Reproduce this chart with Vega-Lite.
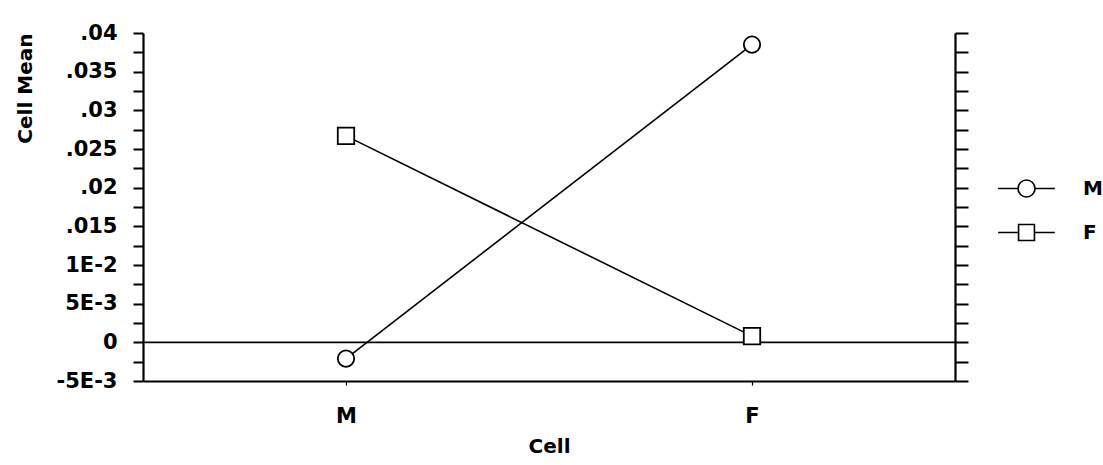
{
  "$schema": "https://vega.github.io/schema/vega-lite/v6.json",
  "width": 812,
  "height": 348,
  "autosize": {"type": "none"},
  "padding": {"left": 143, "top": 33, "right": 148, "bottom": 84},
  "background": "white",
  "config": {
    "view": {"stroke": null},
    "font": "DejaVu Sans",
    "axis": {"domainColor": "black", "tickColor": "black", "labelColor": "black", "titleColor": "black", "grid": false, "labelFontSize": 21, "labelFontWeight": "bold", "titleFontSize": 20, "titleFontWeight": "bold", "labelFont": "DejaVu Sans", "titleFont": "DejaVu Sans"}
  },
  "datasets": {
    "means": [
      {"cell": "M", "series": "M", "mean": -0.0021},
      {"cell": "F", "series": "M", "mean": 0.0385},
      {"cell": "M", "series": "F", "mean": 0.0267},
      {"cell": "F", "series": "F", "mean": 0.0008}
    ],
    "zero": [{"mean": 0}]
  },
  "layer": [
    {
      "data": {"name": "zero"},
      "mark": {"type": "rule", "color": "black", "strokeWidth": 1.6},
      "encoding": {"y": {"field": "mean", "type": "quantitative", "axis": null}}
    },
    {
      "data": {"name": "means"},
      "mark": {"type": "line", "color": "black", "strokeWidth": 1.6},
      "encoding": {
        "x": {
          "field": "cell", "type": "ordinal", "sort": ["M", "F"],
          "scale": {"type": "point", "padding": 0.5},
          "axis": {
            "orient": "bottom", "title": "Cell",
            "labelAngle": 0, "labelPadding": 20, "titlePadding": 10,
            "tickSize": 4, "tickWidth": 1.2, "domainWidth": 2.2
          }
        },
        "y": {
          "field": "mean", "type": "quantitative",
          "scale": {"domain": [-0.005, 0.04], "nice": false, "zero": false},
          "axis": {
            "orient": "left", "title": "Cell Mean",
            "titleAngle": 270, "titleAlign": "right", "titleBaseline": "middle", "titleX": -118, "titleY": 0,
            "values": [-0.005, -0.0025, 0, 0.0025, 0.005, 0.0075, 0.01, 0.0125, 0.015, 0.0175, 0.02, 0.0225, 0.025, 0.0275, 0.03, 0.0325, 0.035, 0.0375, 0.04],
            "labelExpr": "{'-50':'-5E-3','0':'0','50':'5E-3','100':'1E-2','150':'.015','200':'.02','250':'.025','300':'.03','350':'.035','400':'.04'}['' + round(datum.value*10000)] || ''",
            "labelPadding": 16, "tickSize": 10, "tickWidth": 2, "domainWidth": 2.2,
            "labelBound": false, "labelFlush": false, "labelOverlap": false,
            "encode": {"ticks": {"update": {"x2": {"signal": "round(datum.value*10000) % 50 === 0 ? -10 : -5"}}}}
          }
        },
        "detail": {"field": "series"}
      }
    },
    {
      "data": {"name": "means"},
      "mark": {"type": "point", "filled": false, "fill": "white", "stroke": "black", "strokeWidth": 1, "size": 16, "opacity": 1},
      "encoding": {
        "x": {"field": "cell", "type": "ordinal", "sort": ["M", "F"]},
        "y": {
          "field": "mean", "type": "quantitative",
          "axis": {
            "orient": "right", "title": null, "labels": false, "domainWidth": 2.2,
            "values": [-0.005, -0.0025, 0, 0.0025, 0.005, 0.0075, 0.01, 0.0125, 0.015, 0.0175, 0.02, 0.0225, 0.025, 0.0275, 0.03, 0.0325, 0.035, 0.0375, 0.04],
            "tickSize": 13, "tickWidth": 2,
            "encode": {"ticks": {"update": {"x2": {"signal": "round(datum.value*10000) % 50 === 0 ? 13 : 6"}}}}
          }
        },
        "shape": {
          "field": "series", "type": "nominal", "sort": ["M", "F"],
          "scale": {
            "domain": ["M", "F"],
            "range": [
              "M-2.5,0L-0.75,0M0.75,0L2.5,0M0.75,0A0.75,0.75,0,1,1,-0.75,0A0.75,0.75,0,1,1,0.75,0",
              "M-2.5,0L-0.7,0M0.7,0L2.5,0M-0.7,-0.7L0.7,-0.7L0.7,0.7L-0.7,0.7Z"
            ]
          },
          "legend": {
            "title": " ", "titleFontSize": 10, "titlePadding": 133,
            "orient": "right", "offset": 45,
            "symbolSize": 515, "symbolStrokeWidth": 1.6, "labelOffset": 44, "rowPadding": 19,
            "labelFontSize": 20, "labelFontWeight": "bold", "labelColor": "black", "labelFont": "DejaVu Sans"
          }
        }
      }
    },
    {
      "data": {"name": "means"},
      "transform": [{"filter": "datum.series === 'M'"}],
      "mark": {"type": "point", "shape": "circle", "filled": false, "fill": "white", "stroke": "black", "strokeWidth": 1.8, "size": 270, "opacity": 1},
      "encoding": {
        "x": {"field": "cell", "type": "ordinal", "sort": ["M", "F"]},
        "y": {"field": "mean", "type": "quantitative", "axis": null}
      }
    },
    {
      "data": {"name": "means"},
      "transform": [{"filter": "datum.series === 'F'"}],
      "mark": {"type": "point", "shape": "square", "filled": false, "fill": "white", "stroke": "black", "strokeWidth": 1.8, "size": 270, "opacity": 1},
      "encoding": {
        "x": {"field": "cell", "type": "ordinal", "sort": ["M", "F"]},
        "y": {"field": "mean", "type": "quantitative", "axis": null}
      }
    }
  ],
  "resolve": {"axis": {"y": "independent"}}
}
